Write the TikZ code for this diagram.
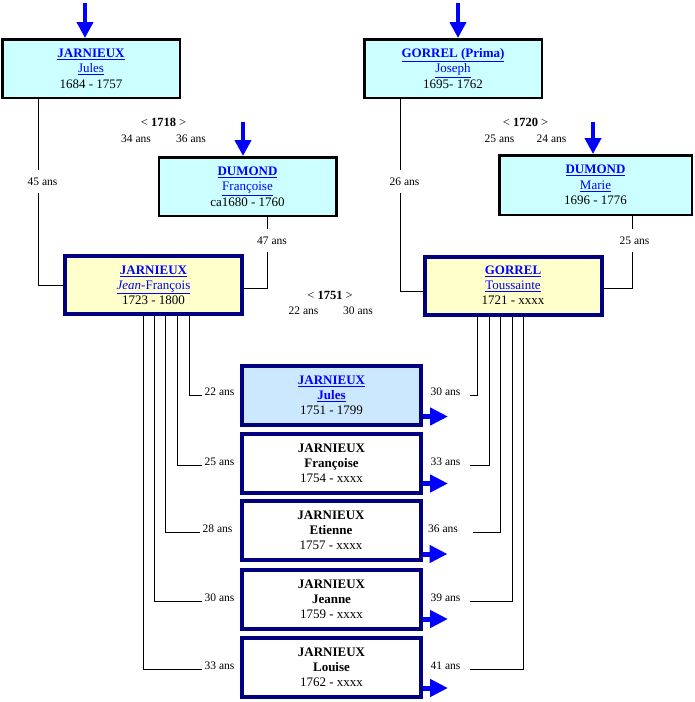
\documentclass[tikz,border=0pt]{standalone}
\usepackage{fontspec}
\setmainfont{Liberation Serif}
\usepackage{xcolor}
\usetikzlibrary{arrows.meta}
\definecolor{lnk}{HTML}{0000FF}
\definecolor{arrblue}{HTML}{0000FF}
\definecolor{navy}{HTML}{000080}
\definecolor{cyanbg}{HTML}{CCFFFF}
\definecolor{yellowbg}{HTML}{FFFFCC}
\definecolor{kidblue}{HTML}{CCE8FF}

\begin{document}
\begin{tikzpicture}[x=1pt,y=-1pt,
 anc/.style={draw=black, line width=2.5pt, fill=cyanbg, minimum width=177.5pt, minimum height=58.5pt, inner sep=0pt, align=center, font=\fontsize{13}{15.5}\selectfont},
 par/.style={draw=navy, line width=4pt, fill=yellowbg, minimum width=177pt, minimum height=58pt, inner sep=0pt, align=center, font=\fontsize{13}{15}\selectfont},
 kid/.style={draw=navy, line width=4pt, fill=white, minimum width=179pt, minimum height=59pt, inner sep=0pt, align=center, font=\fontsize{13}{15}\selectfont},
 age/.style={font=\fontsize{11.5}{13}\selectfont, inner sep=2.5pt},
 agecut/.style={age, fill=white, inner xsep=1pt, inner ysep=8pt},
 wed/.style={font=\fontsize{12.5}{14}\selectfont, inner sep=1pt},
 link/.style={line width=0.9pt, black},
 inarr/.style={draw=arrblue, line width=4pt, -{Triangle[width=16pt,length=16pt]}},
 outarr/.style={draw=arrblue, line width=5pt, -{Triangle[width=17pt,length=18pt]}}]
 \useasboundingbox (0,0) rectangle (695,702);

 % grand-parents
 \node [anc] (pJ) at (91,68.5) {\textcolor{lnk}{\textbf{\underline{JARNIEUX}}}\\ \textcolor{lnk}{\underline{Jules}}\\ 1684 - 1757};
 \node [anc] (pG) at (453,68.5) {\textcolor{lnk}{\textbf{\underline{GORREL (Prima)}}}\\ \textcolor{lnk}{\underline{Joseph}}\\ 1695- 1762};
 \node [anc] (mF) at (247.5,186.5) {\textcolor{lnk}{\textbf{\underline{DUMOND}}}\\ \textcolor{lnk}{\underline{Françoise}}\\ ca1680 - 1760};
 \node [anc, minimum width=192.5pt, minimum height=59.5pt] (mM) at (595.5,185) {\textcolor{lnk}{\textbf{\underline{DUMOND}}}\\ \textcolor{lnk}{\underline{Marie}}\\ 1696 - 1776};

 % parents
 \node [par] (jf) at (153.5,285) {\textcolor{lnk}{\textbf{\underline{JARNIEUX}}}\\ \textcolor{lnk}{\underline{\textit{Jean}-François}}\\ 1723 - 1800};
 \node [par] (tg) at (513,285.5) {\textcolor{lnk}{\textbf{\underline{GORREL}}}\\ \textcolor{lnk}{\underline{Toussainte}}\\ 1721 - xxxx};

 % children
 \node [kid, fill=kidblue] (k1) at (331.5,395) {\textcolor{lnk}{\textbf{\underline{JARNIEUX}}}\\ \textcolor{lnk}{\textbf{\underline{Jules}}}\\ 1751 - 1799};
 \node [kid] (k2) at (331.5,463) {\textbf{JARNIEUX}\\ \textbf{Françoise}\\ 1754 - xxxx};
 \node [kid] (k3) at (331,530.5) {\textbf{JARNIEUX}\\ \textbf{Etienne}\\ 1757 - xxxx};
 \node [kid] (k4) at (331.5,599.5) {\textbf{JARNIEUX}\\ \textbf{Jeanne}\\ 1759 - xxxx};
 \node [kid] (k5) at (331.5,667.5) {\textbf{JARNIEUX}\\ \textbf{Louise}\\ 1762 - xxxx};

 % marriages
 \node [wed] (w1718) at (163.5,122) {< \textbf{1718} >};
 \node [age] (h1718) at (136,138.5) {34 ans};
 \node [age] (f1718) at (191,138.5) {36 ans};
 \node [wed] (w1720) at (525.5,122) {< \textbf{1720} >};
 \node [age] (h1720) at (499.5,138.5) {25 ans};
 \node [age] (f1720) at (551.5,138.5) {24 ans};
 \node [wed] (w1751) at (330,295.5) {< \textbf{1751} >};
 \node [age] (h1751) at (303.5,310.5) {22 ans};
 \node [age] (f1751) at (358,310.5) {30 ans};

 % ages of the parents at the births
 \node [age] (fa1) at (219.5,392) {22 ans};
 \node [age] (fa2) at (219.5,461.5) {25 ans};
 \node [age] (fa3) at (217.5,528.5) {28 ans};
 \node [age] (fa4) at (219.5,597.5) {30 ans};
 \node [age] (fa5) at (219.5,665.5) {33 ans};
 \node [age] (ma1) at (445.5,392) {30 ans};
 \node [age] (ma2) at (445.5,461.5) {33 ans};
 \node [age] (ma3) at (443,528.5) {36 ans};
 \node [age] (ma4) at (445.5,597.5) {39 ans};
 \node [age] (ma5) at (445.5,665.5) {41 ans};

 % lines to the parents
 \draw [link] ([xshift=37pt]pJ.south west) |- (jf.west);
 \draw [link] ([xshift=110pt]mF.south west) |- ([yshift=-3pt]jf.east);
 \draw [link] ([xshift=37pt]pG.south west) |- ([yshift=-5.5pt]tg.west);
 \draw [link] ([xshift=134pt]mM.south west) |- ([yshift=-2.5pt]tg.east);
 \node [agecut] (aJ) at (42.5,181.5) {45 ans};
 \node [agecut] (aF) at (272,240.5) {47 ans};
 \node [agecut] (aG) at (404.5,181.5) {26 ans};
 \node [agecut] (aM) at (634.5,240.5) {25 ans};

 % lines to the children
 \draw [link] ([xshift=126pt]jf.south west) |- (fa1.base west);
 \draw [link] ([xshift=114pt]jf.south west) |- (fa2.base west);
 \draw [link] ([xshift=102pt]jf.south west) |- (fa3.base west);
 \draw [link] ([xshift=91pt]jf.south west) |- (fa4.base west);
 \draw [link] ([xshift=80pt]jf.south west) |- (fa5.base west);
 \draw [link] ([xshift=55pt]tg.south west) |- ([xshift=7pt]ma1.base east);
 \draw [link] ([xshift=67pt]tg.south west) |- ([xshift=7pt]ma2.base east);
 \draw [link] ([xshift=78pt]tg.south west) |- ([xshift=12pt]ma3.base east);
 \draw [link] ([xshift=90pt]tg.south west) |- ([xshift=7pt]ma4.base east);
 \draw [link] ([xshift=101pt]tg.south west) |- ([xshift=7pt]ma5.base east);

 % blue arrows
 \coordinate (tJ) at (85,3);
 \coordinate (tG) at (458,3);
 \coordinate (tF) at (243,122);
 \coordinate (tM) at (593,122);
 \draw [inarr] (tJ) -- (tJ |- pJ.north);
 \draw [inarr] (tG) -- (tG |- pG.north);
 \draw [inarr] (tF) -- (tF |- mF.north);
 \draw [inarr] (tM) -- (tM |- mM.north);
 \draw [outarr] ([yshift=10pt]k1.south east) -- ++(25,0);
 \draw [outarr] ([yshift=11pt]k2.south east) -- ++(25,0);
 \draw [outarr] ([yshift=8pt]k3.south east) -- ++(25,0);
 \draw [outarr] ([yshift=12pt]k4.south east) -- ++(25,0);
 \draw [outarr] ([yshift=11pt]k5.south east) -- ++(25,0);
\end{tikzpicture}
\end{document}
